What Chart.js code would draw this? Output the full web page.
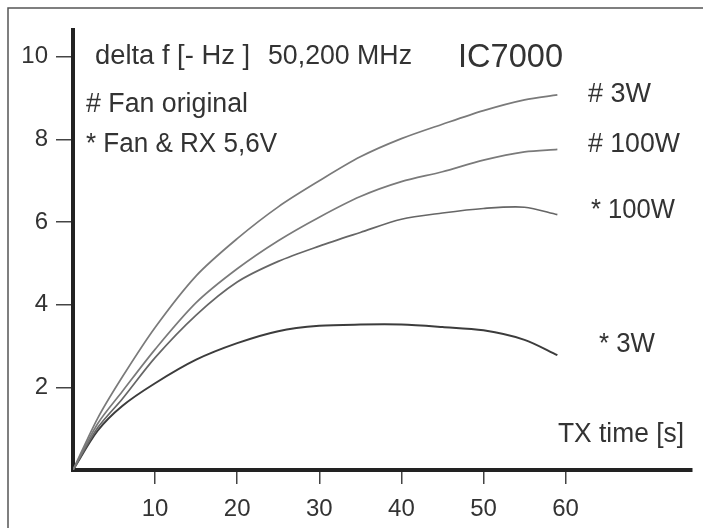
<!DOCTYPE html>
<html>
<head>
<meta charset="utf-8">
<title>IC7000 delta f</title>
<script src="https://cdn.jsdelivr.net/npm/chart.js@4.4.0/dist/chart.umd.min.js"></script>
<style>
  html, body { margin: 0; padding: 0; background: #fff; }
  #wrap { width: 703px; height: 528px; }
</style>
</head>
<body>
<div id="wrap"><canvas id="myChart" width="703" height="528"></canvas></div>
<script>
// TX time in seconds, delta f in -Hz
const timeS = [0, 3, 6, 10, 15, 20, 25, 30, 35, 40, 45, 50, 55, 59];
const fanOrig3W = [0, 1.25, 2.25, 3.45, 4.7, 5.6, 6.37, 7.0, 7.58, 8.02, 8.37, 8.7, 8.96, 9.08];
const fanOrig100W = [0, 1.12, 1.9, 2.92, 4.05, 4.87, 5.55, 6.12, 6.62, 6.98, 7.22, 7.5, 7.7, 7.76];
const fanRx100W = [0, 1.02, 1.72, 2.72, 3.75, 4.55, 5.05, 5.42, 5.75, 6.07, 6.22, 6.33, 6.36, 6.18];
const fanRx3W = [0, 0.95, 1.55, 2.1, 2.67, 3.07, 3.36, 3.49, 3.52, 3.52, 3.46, 3.38, 3.15, 2.78];
const xTicks = [10, 20, 30, 40, 50, 60];
const yTicks = [2, 4, 6, 8, 10];

const fontName = '"Liberation Sans", Arial, sans-serif';
const textColor = '#333';

function toPoints(values) {
    let pts = [];
    for (let i = 0; i < timeS.length; i++) {
        pts.push({ x: timeS[i], y: values[i] });
    }
    return pts;
}

// labels drawn on the plot; w = width the text is fitted to
const notes = [
    { text: 'delta f [- Hz ]', x: 95, y: 64, size: 27, w: 155 },
    { text: '50,200 MHz', x: 268, y: 64, size: 27, w: 144 },
    { text: 'IC7000', x: 458, y: 67, size: 33, w: 105 },
    { text: '# Fan original', x: 86, y: 112, size: 27, w: 162 },
    { text: '* Fan & RX 5,6V', x: 86, y: 152, size: 27, w: 191 },
    { text: '# 3W', x: 588, y: 102, size: 27, w: 63 },
    { text: '# 100W', x: 588, y: 152, size: 27, w: 92 },
    { text: '* 100W', x: 591, y: 218, size: 27, w: 84 },
    { text: '* 3W', x: 599, y: 352, size: 27, w: 56 },
    { text: 'TX time [s]', x: 558, y: 442, size: 27, w: 126 }
];

const framePlugin = {
    id: 'frame',
    beforeDraw(chart) {
        const ctx = chart.ctx;
        ctx.save();
        ctx.fillStyle = '#fff';
        ctx.fillRect(0, 0, chart.width, chart.height);
        ctx.strokeStyle = '#555';
        ctx.lineWidth = 1.5;
        ctx.beginPath();
        ctx.moveTo(8, chart.height);
        ctx.lineTo(8, 8);
        ctx.lineTo(chart.width, 8);
        ctx.stroke();
        ctx.restore();
    },
    afterDraw(chart) {
        const ctx = chart.ctx;
        ctx.save();
        ctx.fillStyle = textColor;
        ctx.textBaseline = 'alphabetic';
        ctx.textAlign = 'left';
        for (let n of notes) {
            ctx.font = n.size + 'px ' + fontName;
            let sx = n.w / ctx.measureText(n.text).width;
            ctx.save();
            ctx.translate(n.x, n.y);
            ctx.scale(sx, 1);
            ctx.fillText(n.text, 0, 0);
            ctx.restore();
        }
        ctx.restore();
    }
};

let ctx = document.getElementById('myChart').getContext('2d');
let deltaChart = new Chart(ctx, {
    type: 'line',
    data: {
        datasets: [{
                label: '# 3W',
                data: toPoints(fanOrig3W),
                borderColor: '#7a7a7a',
                borderWidth: 1.7
            }, {
                label: '# 100W',
                data: toPoints(fanOrig100W),
                borderColor: '#7a7a7a',
                borderWidth: 1.7
            }, {
                label: '* 100W',
                data: toPoints(fanRx100W),
                borderColor: '#666',
                borderWidth: 1.7
            }, {
                label: '* 3W',
                data: toPoints(fanRx3W),
                borderColor: '#3c3c3c',
                borderWidth: 2
            }]
    },
    options: {
        responsive: false,
        animation: false,
        elements: {
            point: { radius: 0 },
            line: { tension: 0.3 }
        },
        layout: {
            padding: { top: 30, right: 11, left: 0, bottom: 0 }
        },
        plugins: {
            legend: { display: false },
            tooltip: { enabled: false }
        },
        scales: {
            x: {
                type: 'linear',
                min: 0,
                max: 75.4,
                afterBuildTicks: (scale) => { scale.ticks = xTicks.map(v => ({ value: v })); },
                afterFit: (scale) => { scale.height = 58; },
                grid: { drawOnChartArea: false, tickLength: 14, tickColor: '#444', lineWidth: 1.5 },
                border: { display: true, color: '#222', width: 4 },
                ticks: {
                    autoSkip: false,
                    maxRotation: 0,
                    padding: 11,
                    color: textColor,
                    font: { family: fontName, size: 24 }
                }
            },
            y: {
                min: 0,
                max: 10.65,
                afterBuildTicks: (scale) => { scale.ticks = yTicks.map(v => ({ value: v })); },
                afterFit: (scale) => { scale.width = 73; },
                grid: { drawOnChartArea: false, tickLength: 17, tickColor: '#444', lineWidth: 1.5 },
                border: { display: true, color: '#222', width: 4 },
                ticks: {
                    autoSkip: false,
                    padding: 8,
                    color: textColor,
                    font: { family: fontName, size: 24 }
                }
            }
        }
    },
    plugins: [framePlugin]
});
</script>
</body>
</html>
